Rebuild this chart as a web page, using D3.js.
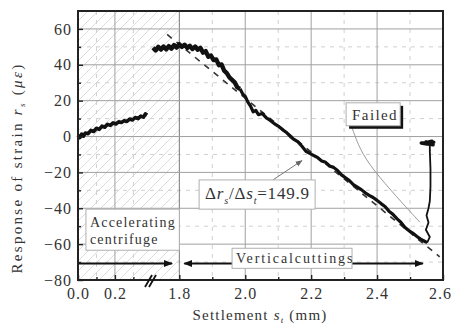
<!DOCTYPE html>
<html>
<head>
<meta charset="utf-8">
<script src="https://cdn.jsdelivr.net/npm/d3@7"></script>
<style>
  html, body { margin: 0; padding: 0; background: #fff; }
  svg { display: block; }
  text { font-family: "Liberation Serif", "DejaVu Serif", serif; fill: #333; }
</style>
</head>
<body>
<svg id="chart" width="451" height="327"></svg>
<script>
// settlement (mm) / strain response (micro-strain)
const leftS = [0.000, 0.010, 0.020, 0.030, 0.040, 0.055, 0.070, 0.085, 0.100, 0.115, 0.130, 0.145, 0.160,
  0.175, 0.190, 0.205, 0.220, 0.235, 0.250, 0.265, 0.280, 0.295, 0.310, 0.325, 0.340, 0.355, 0.365, 0.375];
const leftR = [0.8, -0.6, 1.4, 0.2, 2.0, 1.6, 3.4, 2.8, 4.6, 4.0, 5.8, 5.2, 6.8,
  6.2, 7.6, 7.0, 8.2, 7.8, 8.8, 8.4, 9.8, 9.2, 10.6, 10.0, 11.4, 10.8, 12.6, 12.0];

const rightS = [1.720, 1.728, 1.736, 1.744, 1.752, 1.760, 1.768, 1.776, 1.784, 1.792, 1.800, 1.808,
  1.816, 1.824, 1.832, 1.840, 1.848, 1.856, 1.864, 1.872, 1.880, 1.888, 1.896, 1.904, 1.912, 1.920,
  1.928, 1.936, 1.944, 1.952, 1.960, 1.968, 1.976, 1.984, 1.992, 2.000, 2.008, 2.016, 2.024, 2.032,
  2.040, 2.052, 2.064, 2.076, 2.088, 2.100, 2.112, 2.124, 2.136, 2.148, 2.160, 2.172, 2.184, 2.196,
  2.208, 2.220, 2.232, 2.244, 2.256, 2.268, 2.280, 2.292, 2.304, 2.316, 2.328, 2.340, 2.352, 2.364,
  2.376, 2.388, 2.400, 2.412, 2.424, 2.436, 2.448, 2.460, 2.472, 2.484, 2.496, 2.508, 2.520, 2.532,
  2.544, 2.552];
const rightR = [49.5, 48.0, 50.0, 48.5, 50.2, 48.6, 50.4, 49.0, 51.0, 49.6, 51.5, 50.0,
  51.2, 49.4, 50.6, 48.8, 50.2, 48.4, 49.4, 46.8, 47.6, 44.5, 45.2, 42.6, 43.0, 39.8,
  40.2, 36.8, 35.4, 33.0, 31.6, 30.2, 27.4, 26.6, 23.8, 22.4, 19.2, 17.0, 13.8, 14.6,
  12.2, 12.8, 10.4, 9.0, 7.2, 5.8, 4.0, 2.4, 0.2, -1.6, -3.0, -5.4, -8.2, -9.4,
  -10.6, -11.8, -13.6, -14.4, -16.4, -17.2, -19.0, -21.4, -23.0, -24.6, -26.8, -28.2, -29.6, -31.4,
  -32.8, -34.0, -35.6, -37.4, -39.0, -41.6, -43.4, -45.8, -47.8, -50.6, -52.4, -53.8, -55.6, -57.2,
  -58.4, -59.2];

const failS = [2.552, 2.560, 2.548, 2.556, 2.550, 2.556, 2.560, 2.562, 2.562, 2.560, 2.560,
  2.548, 2.570, 2.540, 2.566, 2.552, 2.534, 2.572, 2.556];
const failR = [-59.2, -56.0, -52.0, -48.0, -44.0, -40.0, -36.0, -28.0, -18.0, -8.0, -4.0,
  -3.0, -4.6, -3.8, -2.6, -4.2, -3.6, -3.2, -4.0];

// linear fit, slope -149.9
const fitS = [1.763, 2.590];
const fitR = [56.9, -67.1];

// leader from the "Failed" label
const failedLeadS = [2.324, 2.348, 2.388, 2.460, 2.530];
const failedLeadR = [4.9, -7.4, -18.6, -33.8, -47.8];

const xMajor = [0, 0.2, 1.8, 2.0, 2.2, 2.4, 2.6];
const xMinor = [0.1, 0.3, 1.9, 2.1, 2.3, 2.5];
const yMajor = [-80, -60, -40, -20, 0, 20, 40, 60];
const yMinor = [-70, -50, -30, -10, 10, 30, 50];

(() => {
  let svg, margin, width, height, x, y, g, defs, line, pts;

  svg = d3.select('#chart');
  margin = {top: 11, right: 8, bottom: 47, left: 78};
  width = 451 - margin.left - margin.right;
  height = 327 - margin.top - margin.bottom;

  // broken axis: 0..0.39 | 1.711..2.6
  x = d3.scaleLinear().domain([0, 0.39, 1.711, 2.6]).range([0, 72, 72, width]);
  y = d3.scaleLinear().domain([-80, 70]).range([height, 0]);

  defs = svg.append('defs');
  defs.append('pattern')
    .attr('id', 'hatch')
    .attr('patternUnits', 'userSpaceOnUse')
    .attr('width', 10).attr('height', 10)
    .append('path')
    .attr('d', 'M-1,1 l2,-2 M0,10 l10,-10 M9,11 l2,-2')
    .attr('stroke', '#dcdcdc').attr('stroke-width', 1);
  defs.append('marker')
    .attr('id', 'tip')
    .attr('viewBox', '0 0 10 10').attr('refX', 9).attr('refY', 5)
    .attr('markerWidth', 9).attr('markerHeight', 9)
    .attr('markerUnits', 'userSpaceOnUse')
    .attr('orient', 'auto-start-reverse')
    .append('path').attr('d', 'M0,1 L10,5 L0,9 z').attr('fill', '#111');
  defs.append('marker')
    .attr('id', 'tipGray')
    .attr('viewBox', '0 0 10 10').attr('refX', 9).attr('refY', 5)
    .attr('markerWidth', 7).attr('markerHeight', 7)
    .attr('markerUnits', 'userSpaceOnUse')
    .attr('orient', 'auto')
    .append('path').attr('d', 'M0,1 L10,5 L0,9 z').attr('fill', '#666');

  g = svg.append('g').attr('transform', `translate(${margin.left},${margin.top})`);

  // hatched "accelerating" zone
  g.append('rect')
    .attr('x', x(0)).attr('y', 0)
    .attr('width', x(1.8) - x(0)).attr('height', height)
    .attr('fill', 'url(#hatch)');

  // grid
  g.selectAll('.gminx').data(xMinor).join('line')
    .attr('x1', d => x(d)).attr('x2', d => x(d)).attr('y1', 0).attr('y2', height)
    .attr('stroke', '#d0d0d0').attr('stroke-dasharray', '4,5');
  g.selectAll('.gminy').data(yMinor).join('line')
    .attr('y1', d => y(d)).attr('y2', d => y(d)).attr('x1', 0).attr('x2', width)
    .attr('stroke', '#d0d0d0').attr('stroke-dasharray', '4,5');
  g.selectAll('.gmajx').data(xMajor.filter(d => d > 0 && d < 2.6)).join('line')
    .attr('x1', d => x(d)).attr('x2', d => x(d)).attr('y1', 0).attr('y2', height)
    .attr('stroke', d => d === 1.8 ? '#777' : '#a0a0a0').attr('stroke-width', 1);
  g.selectAll('.gmajy').data(yMajor.filter(d => d > -80)).join('line')
    .attr('y1', d => y(d)).attr('y2', d => y(d)).attr('x1', 0).attr('x2', width)
    .attr('stroke', '#a0a0a0').attr('stroke-width', 1);

  line = d3.line().x(d => x(d[0])).y(d => y(d[1]));

  // fitted trend (dashed)
  g.append('path')
    .datum(d3.zip(fitS, fitR))
    .attr('d', line)
    .attr('fill', 'none').attr('stroke', '#333').attr('stroke-width', 1.6)
    .attr('stroke-dasharray', '6,6');

  // measured response
  g.append('path')
    .datum(d3.zip(leftS, leftR))
    .attr('d', line)
    .attr('fill', 'none').attr('stroke', '#111').attr('stroke-width', 3.6)
    .attr('stroke-linejoin', 'round');
  pts = d3.zip(rightS, rightR);
  g.append('path')
    .datum(pts.filter(d => d[0] <= 1.99))
    .attr('d', line)
    .attr('fill', 'none').attr('stroke', '#111').attr('stroke-width', 4.4)
    .attr('stroke-linejoin', 'round');
  g.append('path')
    .datum(pts.filter(d => d[0] >= 1.984))
    .attr('d', line)
    .attr('fill', 'none').attr('stroke', '#111').attr('stroke-width', 3.2)
    .attr('stroke-linejoin', 'round');
  g.append('path')
    .datum(d3.zip(failS, failR).slice(0, 11))
    .attr('d', line)
    .attr('fill', 'none').attr('stroke', '#111').attr('stroke-width', 1.8)
    .attr('stroke-linejoin', 'round');
  g.append('path')
    .datum(d3.zip(failS, failR).slice(10))
    .attr('d', line)
    .attr('fill', 'none').attr('stroke', '#111').attr('stroke-width', 3.4)
    .attr('stroke-linejoin', 'round');

  // leader lines
  g.append('path')
    .datum(d3.zip(failedLeadS, failedLeadR))
    .attr('d', line.curve(d3.curveBasis))
    .attr('fill', 'none').attr('stroke', '#9a9a9a').attr('stroke-width', 1);
  line.curve(d3.curveLinear);
  g.append('line')
    .attr('x1', x(2.084)).attr('y1', y(-24.2))
    .attr('x2', x(2.172)).attr('y2', y(-13.4))
    .attr('stroke', '#777').attr('stroke-width', 1)
    .attr('marker-end', 'url(#tipGray)');

  // stage arrows
  g.append('line')
    .attr('x1', x(0)).attr('x2', x(1.778)).attr('y1', y(-70.8)).attr('y2', y(-70.8))
    .attr('stroke', '#111').attr('stroke-width', 2)
    .attr('marker-end', 'url(#tip)');
  g.append('line')
    .attr('x1', x(1.815)).attr('x2', x(2.539)).attr('y1', y(-70.8)).attr('y2', y(-70.8))
    .attr('stroke', '#111').attr('stroke-width', 2)
    .attr('marker-start', 'url(#tip)').attr('marker-end', 'url(#tip)');

  // label boxes
  const box = (s0, s1, r0, r1) => g.append('rect')
    .attr('x', x(s0)).attr('y', y(r0))
    .attr('width', x(s1) - x(s0)).attr('height', y(r1) - y(r0))
    .attr('fill', '#fff').attr('stroke', '#b0b0b0').attr('stroke-width', 1);

  g.append('rect')
    .attr('x', x(2.306) + 3).attr('y', y(18.8) + 3)
    .attr('width', x(2.470) - x(2.306)).attr('height', y(6.0) - y(18.8))
    .attr('fill', '#111');
  box(2.306, 2.470, 18.8, 6.0);
  g.append('text')
    .attr('x', x(2.306) + 6).attr('y', y(6.0) - 6)
    .attr('font-size', 15).attr('letter-spacing', 1.4)
    .text('Failed');

  box(1.860, 2.212, -24.2, -40.5);
  const eq = g.append('text')
    .attr('x', x(1.860) + 6).attr('y', y(-40.5) - 10)
    .attr('font-size', 17).attr('letter-spacing', 0.8);
  eq.append('tspan').text('Δ');
  eq.append('tspan').attr('font-style', 'italic').text('r');
  eq.append('tspan').attr('font-size', 10).attr('dy', 5).attr('font-style', 'italic').text('s');
  eq.append('tspan').attr('dy', -5).text('/Δ');
  eq.append('tspan').attr('font-style', 'italic').text('s');
  eq.append('tspan').attr('font-size', 10).attr('dy', 5).attr('font-style', 'italic').text('t');
  eq.append('tspan').attr('dy', -5).text('=149.9');

  box(0.043, 1.8, -40.5, -63.4);
  g.append('text')
    .attr('x', x(0.043) + 4).attr('y', y(-40.5) + 18)
    .attr('font-size', 14).attr('letter-spacing', 1.2)
    .text('Accelerating');
  g.append('text')
    .attr('x', x(0.043) + 4).attr('y', y(-40.5) + 35)
    .attr('font-size', 14).attr('letter-spacing', 1.2)
    .text('centrifuge');

  box(1.960, 2.324, -62.3, -73.5);
  g.append('text')
    .attr('x', x(1.960) + 4).attr('y', y(-73.5) - 5)
    .attr('font-size', 14).attr('letter-spacing', 1.9)
    .text('Verticalcuttings');

  // axes (ticks inward)
  const styleAxis = sel => {
    sel.select('.domain').remove();
    sel.selectAll('line').attr('stroke', '#222').attr('stroke-width', 1.4);
    sel.selectAll('text')
      .attr('font-family', '"Liberation Serif", "DejaVu Serif", serif')
      .attr('font-size', 16).attr('letter-spacing', 1).attr('fill', '#333');
  };
  g.append('g').attr('transform', `translate(0,${height})`)
    .call(d3.axisBottom(x).tickValues(xMajor).tickSize(-5).tickPadding(8).tickFormat(d3.format('.1f')))
    .call(styleAxis)
    .selectAll('text').filter(d => d === 2.6).attr('dx', -3);
  g.append('g').attr('transform', `translate(0,${height})`)
    .call(d3.axisBottom(x).tickValues(xMinor).tickSize(-3).tickFormat(''))
    .call(styleAxis);
  g.append('g')
    .call(d3.axisLeft(y).tickValues(yMajor).tickSize(-5).tickPadding(6))
    .call(styleAxis);
  g.append('g')
    .call(d3.axisLeft(y).tickValues(yMinor).tickSize(-3).tickFormat(''))
    .call(styleAxis);

  // frame
  g.append('rect')
    .attr('x', 0).attr('y', 0).attr('width', width).attr('height', height)
    .attr('fill', 'none').attr('stroke', '#222').attr('stroke-width', 2);

  // axis break marks
  [0, 4].forEach(off => {
    g.append('line')
      .attr('x1', x(0.39) - 5 + off).attr('y1', height + 7)
      .attr('x2', x(0.39) + 2 + off).attr('y2', height - 5)
      .attr('stroke', '#111').attr('stroke-width', 1.8);
  });

  // axis titles
  const xt = svg.append('text')
    .attr('x', 260).attr('y', 320)
    .attr('text-anchor', 'middle')
    .attr('font-size', 15).attr('letter-spacing', 1.2);
  xt.append('tspan').text('Settlement ');
  xt.append('tspan').attr('font-style', 'italic').text('s');
  xt.append('tspan').attr('font-size', 9).attr('dy', 3).attr('font-style', 'italic').text('t');
  xt.append('tspan').attr('dy', -3).text(' (mm)');

  const yt = svg.append('text')
    .attr('transform', 'translate(22,168) rotate(-90)')
    .attr('text-anchor', 'middle')
    .attr('font-size', 15).attr('letter-spacing', 2.3);
  yt.append('tspan').text('Response of strain ');
  yt.append('tspan').attr('font-style', 'italic').text('r');
  yt.append('tspan').attr('font-size', 9).attr('dy', 3).attr('font-style', 'italic').text('s');
  yt.append('tspan').attr('dy', -3).text(' (');
  yt.append('tspan').attr('font-style', 'italic').text('με');
  yt.append('tspan').text(')');
})();
</script>
</body>
</html>
